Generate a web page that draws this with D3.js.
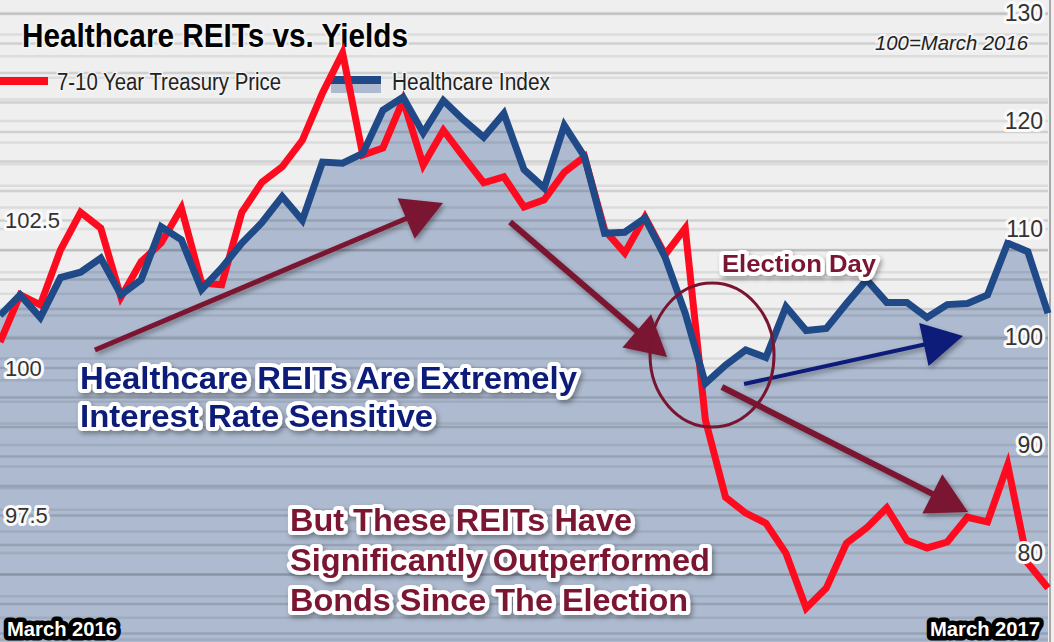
<!DOCTYPE html>
<html>
<head>
<meta charset="utf-8">
<script src="https://cdn.jsdelivr.net/npm/d3@7"></script>
<style>
  html, body { margin: 0; padding: 0; background: #efefef; }
  svg { display: block; }
  text { font-family: "Liberation Sans", Arial, Helvetica, sans-serif; }
</style>
</head>
<body>
<svg id="chart" width="1054" height="642"></svg>
<script>
// ---------- DATA ----------
const weekIndex = d3.range(53); // weekly observations, March 2016 .. March 2017
const treasuryPrice = [
  100.44, 101.24, 101.07, 102.00, 102.64, 102.37, 101.20, 101.80, 102.12, 102.71,
  101.44, 101.41, 102.64, 103.15, 103.41, 103.86, 104.66, 105.34, 103.61, 103.73,
  104.54, 103.44, 104.03, 103.58, 103.14, 103.24, 102.73, 102.85, 103.32, 103.58,
  102.34, 101.95, 102.56, 101.92, 102.37, 99.12, 97.81, 97.54, 97.37, 96.86,
  95.93, 96.27, 97.03, 97.29, 97.63, 97.08, 96.95, 97.05, 97.47, 97.39,
  98.36, 96.69, 96.27
];
const healthcareIndex = [
  102.0, 103.9, 101.8, 105.5, 106.0, 107.3, 103.9, 105.3, 110.2, 109.0,
  104.4, 106.4, 108.7, 110.6, 113.0, 110.8, 116.2, 116.1, 117.0, 121.0,
  122.2, 118.9, 121.9, 120.1, 118.5, 120.7, 115.5, 113.8, 119.6, 116.7,
  109.6, 109.7, 111.0, 107.4, 102.2, 95.7, 97.4, 98.8, 98.1, 102.8,
  100.6, 100.8, 103.1, 105.3, 103.2, 103.2, 101.8, 103.0, 103.1, 103.9,
  108.7, 107.9, 102.2
];
const leftTicks = [102.5, 100, 97.5];
const rightTicks = [130, 120, 110, 100, 90, 80];
const seriesNames = ["7-10 Year Treasury Price", "Healthcare Index"];
const titleText = "Healthcare REITs vs. Yields";
const baseNote = "100=March 2016";
const periodLabels = ["March 2016", "March 2017"];
const annotationBlue = ["Healthcare REITs Are Extremely", "Interest Rate Sensitive"];
const annotationRed = ["But These REITs Have", "Significantly Outperformed", "Bonds Since The Election"];
const electionLabel = "Election Day";
// arrows: [x index, healthcare-axis value] for start and tip
const arrows = [
  { from: [4.71, 98.80],  to: [21.98, 112.41], color: "#7a1531", w: 5 },
  { from: [25.31, 110.65], to: [33.10, 98.15], color: "#7a1531", w: 6 },
  { from: [36.92, 95.65], to: [47.78, 100.09], color: "#0b1a78", w: 4 },
  { from: [35.82, 95.37], to: [48.03, 83.80],  color: "#7a1531", w: 6 }
];
const electionCircle = { at: [35.33, 98.33] };

// ---------- LAYOUT ----------
const W = 1054, H = 642;
const plotRight = 1048;
const svg = d3.select("#chart");

const x = d3.scaleLinear().domain([0, 52]).range([0, plotRight]);
// left axis (treasury): 100 -> 368px, 2.5 -> 147.5px
const yL = d3.scaleLinear().domain([100 - 274 / 59, 100 + 368 / 59]).range([H, 0]);
// right axis (healthcare): 100 -> 337px, 10 -> 108px
const yR = d3.scaleLinear().domain([100 - 305 / 10.8, 100 + 337 / 10.8]).range([H, 0]);

const defs = svg.append("defs");
const sh = defs.append("filter").attr("id", "shadow").attr("x", "-20%").attr("y", "-20%").attr("width", "140%").attr("height", "160%");
sh.append("feDropShadow").attr("dx", 2).attr("dy", 3).attr("stdDeviation", 2.5).attr("flood-color", "#000").attr("flood-opacity", 0.35);

// background
svg.append("rect").attr("width", W).attr("height", H).attr("fill", "#efefef");

// area under healthcare index
svg.append("path")
  .datum(weekIndex)
  .attr("fill", "#adbacf")
  .attr("d", d3.area().x(i => x(i)).y0(H).y1(i => yR(healthcareIndex[i])));

// gridlines (drawn over fill so they darken both regions)
const gridR = d3.range(70, 134, 2);
svg.append("g").selectAll("line").data(gridR).join("line")
  .attr("x1", 0).attr("x2", plotRight)
  .attr("y1", d => yR(d)).attr("y2", d => yR(d))
  .attr("stroke", "rgba(0,0,0,0.08)").attr("stroke-width", 2.5);
const gridL = d3.range(95.5, 106.5, 0.5);
svg.append("g").selectAll("line").data(gridL).join("line")
  .attr("x1", 0).attr("x2", plotRight)
  .attr("y1", d => yL(d)).attr("y2", d => yL(d))
  .attr("stroke", "rgba(0,0,0,0.13)").attr("stroke-width", 2.5);

// right frame
svg.append("line").attr("x1", 1050).attr("x2", 1050).attr("y1", 0).attr("y2", H)
  .attr("stroke", "#a9a9a9").attr("stroke-width", 2);

// title
svg.append("text").attr("x", 22).attr("y", 47)
  .attr("font-size", 34).attr("font-weight", "bold").attr("fill", "#000")
  .attr("textLength", 386).attr("lengthAdjust", "spacingAndGlyphs")
  .attr("stroke", "#f4f4f4").attr("stroke-width", 4).attr("paint-order", "stroke").attr("stroke-linejoin", "round")
  .text(titleText);

// base note
svg.append("text").attr("x", 875).attr("y", 50)
  .attr("font-size", 21).attr("font-style", "italic").attr("fill", "#222")
  .attr("textLength", 153).attr("lengthAdjust", "spacingAndGlyphs")
  .attr("stroke", "#f4f4f4").attr("stroke-width", 4).attr("paint-order", "stroke")
  .text(baseNote);

// legend
const lg = svg.append("g");
lg.append("line").attr("x1", 0).attr("x2", 48).attr("y1", 81).attr("y2", 81)
  .attr("stroke", "#fe0b1f").attr("stroke-width", 8);
lg.append("text").attr("x", 57).attr("y", 90).attr("font-size", 23).attr("fill", "#222")
  .attr("textLength", 224).attr("lengthAdjust", "spacingAndGlyphs")
  .attr("stroke", "#f4f4f4").attr("stroke-width", 3).attr("paint-order", "stroke")
  .text(seriesNames[0]);
lg.append("rect").attr("x", 331).attr("y", 84).attr("width", 50).attr("height", 9).attr("fill", "#adbacf");
lg.append("rect").attr("x", 331).attr("y", 76).attr("width", 50).attr("height", 8).attr("fill", "#1f4a87");
lg.append("text").attr("x", 392).attr("y", 90).attr("font-size", 23).attr("fill", "#222")
  .attr("textLength", 158).attr("lengthAdjust", "spacingAndGlyphs")
  .attr("stroke", "#f4f4f4").attr("stroke-width", 3).attr("paint-order", "stroke")
  .text(seriesNames[1]);

// lines
svg.append("path").datum(weekIndex)
  .attr("fill", "none").attr("stroke", "#fe0b1f").attr("stroke-width", 7).attr("stroke-linejoin", "miter")
  .attr("d", d3.line().x(i => x(i)).y(i => yL(treasuryPrice[i])));
svg.append("path").datum(weekIndex)
  .attr("fill", "none").attr("stroke", "#1f4a87").attr("stroke-width", 7).attr("stroke-linejoin", "miter")
  .attr("d", d3.line().x(i => x(i)).y(i => yR(healthcareIndex[i])));

// axes
function styleAxis(g, size) {
  g.select(".domain").remove();
  g.selectAll("text")
    .attr("font-size", size).attr("fill", "#333")
    .attr("font-family", "'Liberation Sans', Arial, sans-serif")
    .attr("stroke", "#fafafa").attr("stroke-width", 6).attr("stroke-linejoin", "round")
    .attr("paint-order", "stroke");
}
svg.append("g").attr("transform", "translate(1046,0)")
  .call(d3.axisLeft(yR).tickValues(rightTicks).tickSize(0).tickPadding(3).tickFormat(d3.format("d")))
  .call(g => styleAxis(g, 23));
svg.append("g").attr("transform", "translate(0,0)")
  .call(d3.axisRight(yL).tickValues(leftTicks).tickSize(0).tickPadding(5).tickFormat(d => String(d)))
  .call(g => styleAxis(g, 22));

// period labels
const bottom = svg.append("g");
[[0, "start", 7], [52, "end", 1040]].forEach(([i, anchor, px], k) => {
  bottom.append("text").attr("x", px).attr("y", 636)
    .attr("text-anchor", anchor).attr("font-size", 20).attr("font-weight", "bold")
    .attr("textLength", 110).attr("lengthAdjust", "spacingAndGlyphs")
    .attr("fill", "#fff").attr("stroke", "#000").attr("stroke-width", 9)
    .attr("stroke-linejoin", "round").attr("paint-order", "stroke")
    .text(periodLabels[k]);
});

// arrows
function drawArrow(a) {
  const x0 = x(a.from[0]), y0 = yR(a.from[1]);
  const x1 = x(a.to[0]), y1 = yR(a.to[1]);
  const dx = x1 - x0, dy = y1 - y0, len = Math.hypot(dx, dy);
  const ux = dx / len, uy = dy / len;
  const L = 40, hw = 22;
  const bx = x1 - ux * L, by = y1 - uy * L;
  const g = svg.append("g").attr("filter", "url(#shadow)");
  g.append("line").attr("x1", x0).attr("y1", y0).attr("x2", bx + ux * 4).attr("y2", by + uy * 4)
    .attr("stroke", a.color).attr("stroke-width", a.w);
  g.append("polygon")
    .attr("points", [[x1, y1], [bx - uy * hw, by + ux * hw], [bx + uy * hw, by - ux * hw]].map(p => p.join(",")).join(" "))
    .attr("fill", a.color);
}
arrows.forEach(drawArrow);

// election circle
svg.append("ellipse")
  .attr("cx", x(electionCircle.at[0])).attr("cy", yR(electionCircle.at[1]))
  .attr("rx", 62).attr("ry", 72)
  .attr("fill", "none").attr("stroke", "#7a1531").attr("stroke-width", 3);

// annotation texts
function haloText(lines, lengths, x0, y0, dy, size, color) {
  const g = svg.append("g").attr("filter", "url(#shadow)");
  lines.forEach((t, i) => {
    g.append("text").attr("x", x0).attr("y", y0 + i * dy)
      .attr("font-size", size).attr("font-weight", "bold").attr("fill", color)
      .attr("textLength", lengths[i]).attr("lengthAdjust", "spacingAndGlyphs")
      .attr("stroke", "#fff").attr("stroke-width", 8).attr("stroke-linejoin", "round")
      .attr("paint-order", "stroke")
      .text(t);
  });
}
haloText(annotationBlue, [497, 353], 80, 389, 38, 31, "#0b1a78");
haloText(annotationRed, [342, 420, 398], 290, 531, 40, 31, "#7a1531");
haloText([electionLabel], [154], 722, 272, 0, 24, "#7a1531");
</script>
</body>
</html>
